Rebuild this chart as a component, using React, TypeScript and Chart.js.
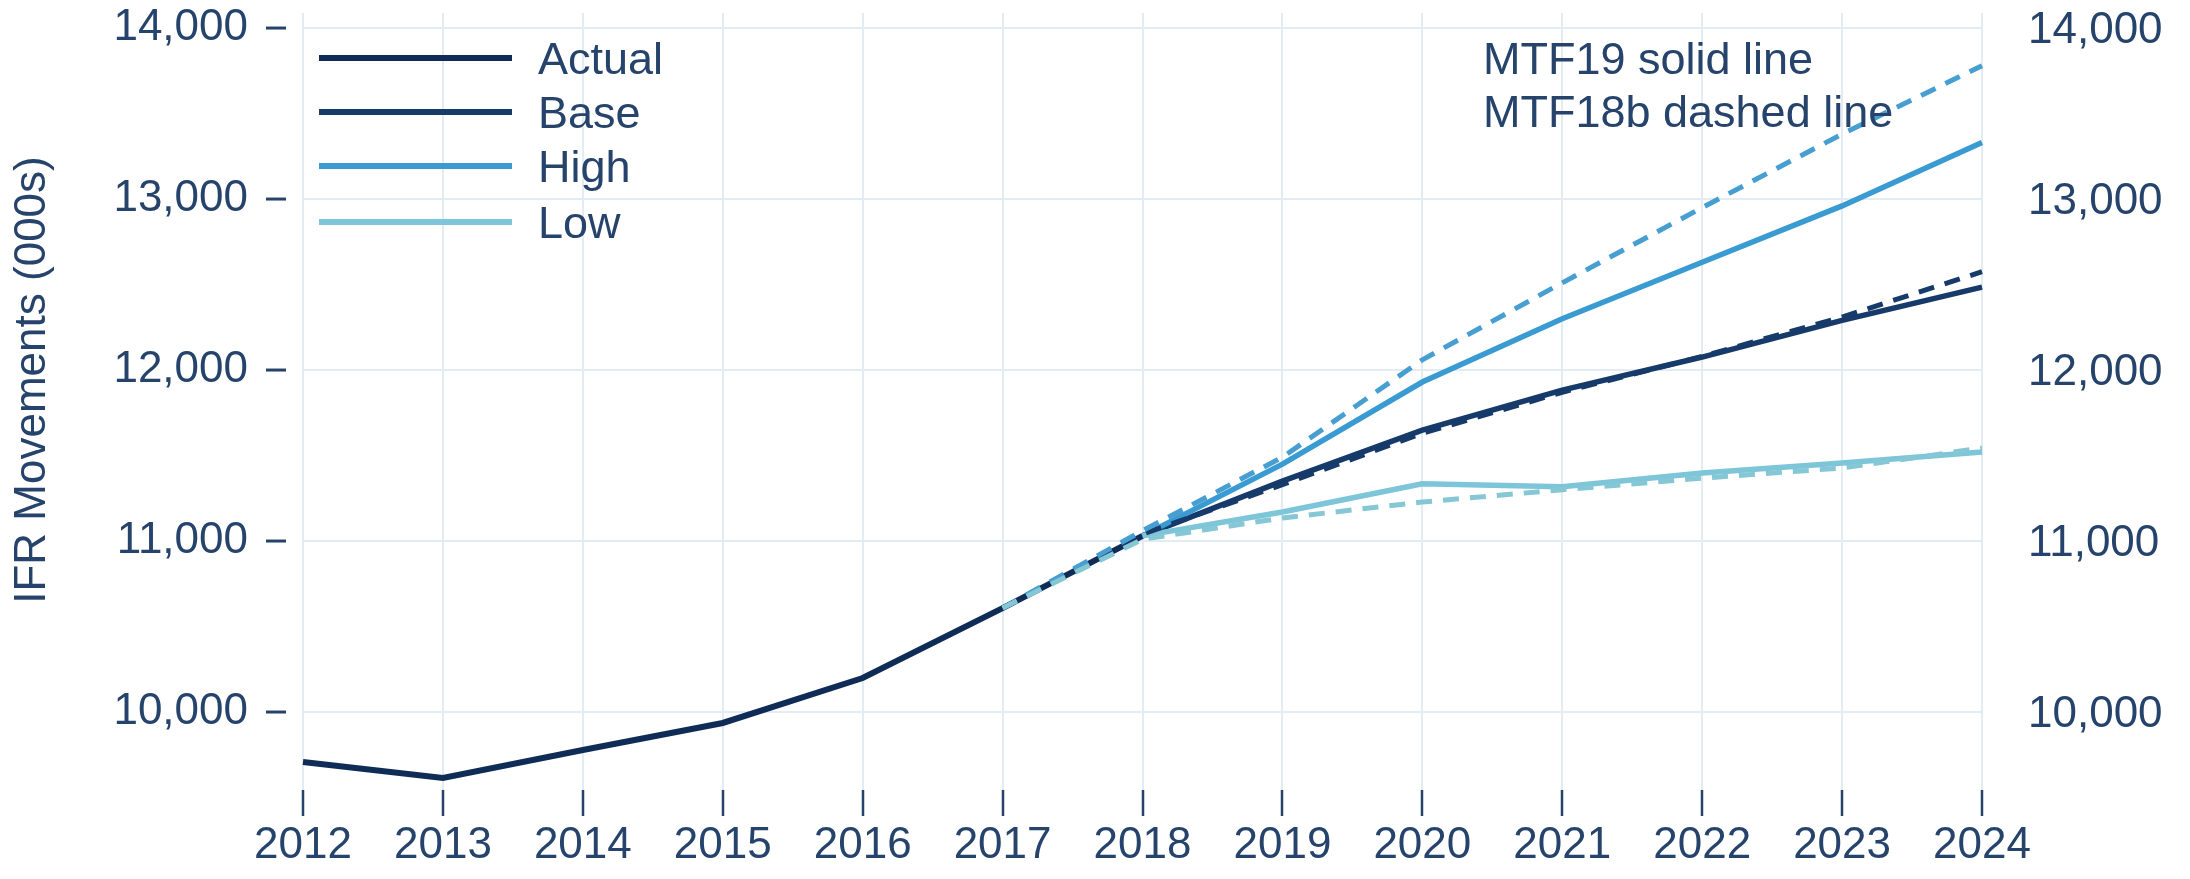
import React, { useEffect, useRef } from "react";
import { Chart, registerables } from "chart.js";

Chart.register(...registerables);

const years = ["2012", "2013", "2014", "2015", "2016", "2017", "2018", "2019", "2020", "2021", "2022", "2023", "2024"];
const actual = [9708, 9614, 9778, 9936, 10199, 10608, 11030, null, null, null, null, null, null];
const base19 = [null, null, null, null, null, null, 11030, 11350, 11649, 11883, 12076, 12290, 12485];
const high19 = [null, null, null, null, null, null, 11030, 11450, 11930, 12300, 12630, 12960, 13330];
const low19 = [null, null, null, null, null, null, 11030, 11170, 11335, 11318, 11398, 11456, 11520];
const base18 = [null, null, null, null, null, 10608, 11040, 11330, 11630, 11870, 12080, 12310, 12575];
const high18 = [null, null, null, null, null, 10608, 11060, 11490, 12060, 12510, 12950, 13380, 13780];
const low18 = [null, null, null, null, null, 10608, 11010, 11135, 11228, 11300, 11368, 11427, 11544];
const yTicks = [10000, 11000, 12000, 13000, 14000];
const legendLabels = ["Actual", "Base", "High", "Low"];
const noteLines = ["MTF19 solid line", "MTF18b dashed line"];
const yTitle = "IFR Movements (000s)";

const FONT = "'Liberation Sans', Arial, Helvetica, sans-serif";
const TEXT = "#26436b";
const GRID = "#e2ecf2";
const C_ACTUAL = "#0f2c57";
const C_BASE = "#163a69";
const C_HIGH = "#3a9bd2";
const C_LOW = "#7dc5d8";
const C_HIGH_D = "#469fd0";
const C_LOW_D = "#86c7d5";
const legendColors = [C_ACTUAL, C_BASE, C_HIGH, C_LOW];

const overlay = {
  id: "overlay",
  afterDraw(chart: any) {
    const ctx = chart.ctx;
    const area = chart.chartArea;
    const ys = chart.scales.y;
    ctx.save();
    // y-axis dash ticks
    ctx.strokeStyle = TEXT;
    ctx.lineWidth = 3;
    yTicks.forEach((v) => {
      const py = ys.getPixelForValue(v);
      ctx.beginPath();
      ctx.moveTo(area.left - 37, py);
      ctx.lineTo(area.left - 17, py);
      ctx.stroke();
    });
    // y-axis title
    ctx.save();
    ctx.translate(33, 380);
    ctx.rotate(-Math.PI / 2);
    ctx.font = `44px ${FONT}`;
    ctx.fillStyle = TEXT;
    ctx.textAlign = "center";
    ctx.textBaseline = "middle";
    ctx.fillText(yTitle, 0, 0);
    ctx.restore();
    // legend
    const rows = [45, 99, 153, 209];
    ctx.font = `45px ${FONT}`;
    ctx.textBaseline = "middle";
    ctx.textAlign = "left";
    legendLabels.forEach((lab, i) => {
      const y = area.top + rows[i];
      ctx.strokeStyle = legendColors[i];
      ctx.lineWidth = 6;
      ctx.beginPath();
      ctx.moveTo(area.left + 16, y);
      ctx.lineTo(area.left + 209, y);
      ctx.stroke();
      ctx.fillStyle = TEXT;
      ctx.fillText(lab, area.left + 235, y + 4);
    });
    // notes
    const noteY = [49, 102];
    noteLines.forEach((t, i) => {
      ctx.fillStyle = TEXT;
      ctx.fillText(t, area.left + 1180, area.top + noteY[i]);
    });
    ctx.restore();
  },
};

export default function App() {
  const ref = useRef<HTMLCanvasElement | null>(null);
  useEffect(() => {
    if (!ref.current) return;
    const line = (data: any[], color: string, width: number, dashed: boolean) => ({
      data,
      borderColor: color,
      backgroundColor: color,
      borderWidth: width,
      borderDash: dashed ? [16, 11] : [],
      pointRadius: 0,
      tension: 0,
      fill: false,
      spanGaps: false,
      yAxisID: "y",
    });
    const tickFont = { family: FONT, size: 44 };
    const chart = new Chart(ref.current, {
      type: "line",
      data: {
        labels: years,
        datasets: [
          line(low18, C_LOW_D, 5, true),
          line(high18, C_HIGH_D, 5, true),
          line(base18, C_BASE, 5, true),
          line(low19, C_LOW, 5.5, false),
          line(high19, C_HIGH, 5.5, false),
          line(base19, C_BASE, 5.5, false),
          line(actual, C_ACTUAL, 6, false),
        ],
      },
      options: {
        animation: false,
        responsive: false,
        layout: { padding: { top: 13, left: 0, right: 0, bottom: 0 } },
        plugins: { legend: { display: false }, tooltip: { enabled: false } },
        scales: {
          x: {
            type: "category",
            offset: false,
            grid: { color: GRID, lineWidth: 2, drawTicks: true, tickLength: 26, tickColor: TEXT, tickWidth: 2.5 },
            border: { display: false },
            ticks: { color: TEXT, font: tickFont, padding: 3, maxRotation: 0, minRotation: 0, autoSkip: false },
            afterFit(s: any) {
              s.height = 89;
              s.paddingLeft = 0;
              s.paddingRight = 0;
            },
          },
          y: {
            position: "left",
            min: 9544,
            max: 14088,
            grid: { color: GRID, lineWidth: 2, drawTicks: false },
            border: { display: false },
            ticks: {
              color: TEXT,
              font: tickFont,
              padding: 55,
              callback: (v: any) => Number(v).toLocaleString("en-US"),
            },
            afterBuildTicks(s: any) {
              s.ticks = yTicks.map((v) => ({ value: v }));
            },
            afterFit(s: any) {
              s.width = 303;
              s.paddingTop = 0;
              s.paddingBottom = 0;
            },
          },
          y2: {
            position: "right",
            min: 9544,
            max: 14088,
            grid: { display: false, drawTicks: false },
            border: { display: false },
            ticks: {
              color: TEXT,
              font: tickFont,
              padding: 46,
              labelOffset: 3,
              callback: (v: any) => Number(v).toLocaleString("en-US"),
            },
            afterBuildTicks(s: any) {
              s.ticks = yTicks.map((v) => ({ value: v }));
            },
            afterFit(s: any) {
              s.width = 208;
              s.paddingTop = 0;
              s.paddingBottom = 0;
            },
          },
        },
      } as any,
      plugins: [overlay],
    });
    return () => chart.destroy();
  }, []);
  return (
    <div style={{ position: "absolute", left: 0, top: 0, width: 2190, height: 879, background: "#ffffff" }}>
      <canvas ref={ref} width={2190} height={879} style={{ display: "block" }} />
    </div>
  );
}
